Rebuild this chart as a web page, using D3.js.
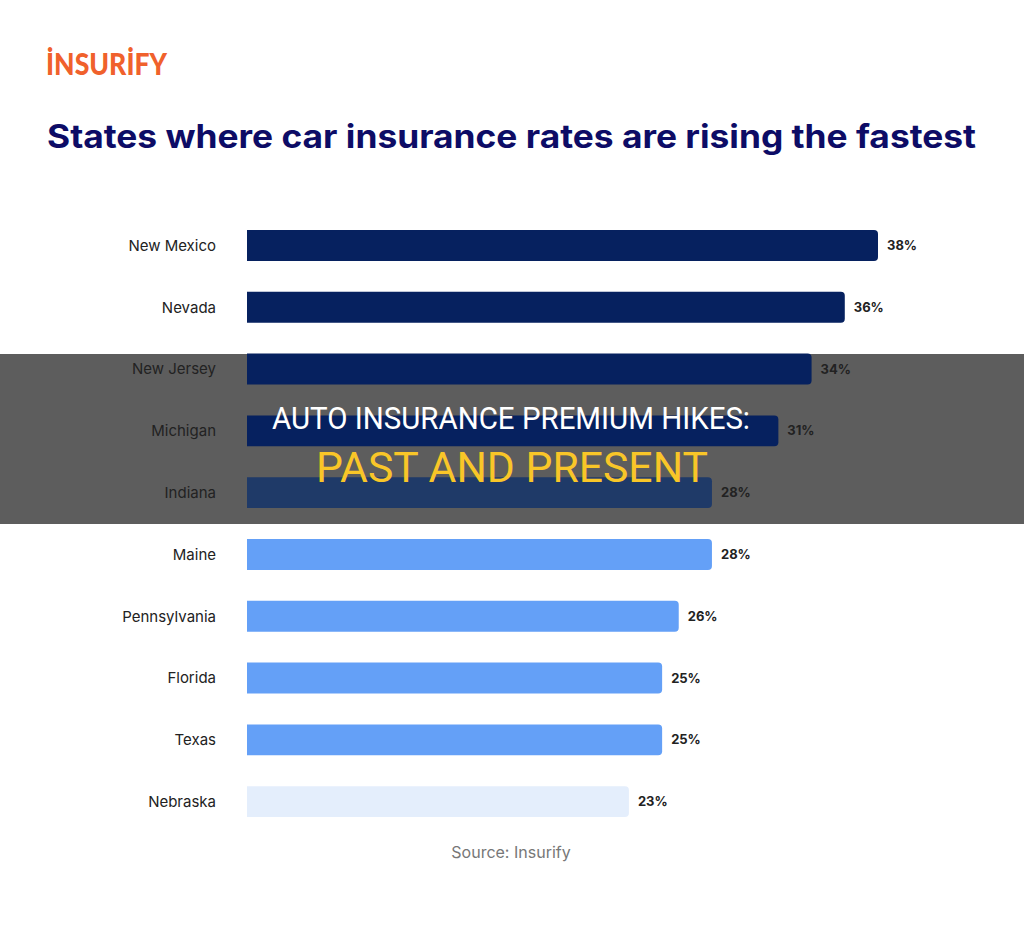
<!DOCTYPE html>
<html>
<head>
<meta charset="utf-8">
<script src="https://cdn.jsdelivr.net/npm/d3@7"></script>
<style>
html,body{margin:0;padding:0;background:#fff;}
svg{display:block;}
</style>
</head>
<body>
<svg id="chart" width="1024" height="931"></svg>
<script>
const states = ["New Mexico","Nevada","New Jersey","Michigan","Indiana","Maine","Pennsylvania","Florida","Texas","Nebraska"];
const barValues = [38,36,34,32,28,28,26,25,25,23];
const valueLabels = ["38%","36%","34%","31%","28%","28%","26%","25%","25%","23%"];
const barColors = ["#06215f","#06215f","#06215f","#06215f","#1f3a68","#64a0f7","#64a0f7","#64a0f7","#64a0f7","#e4eefc"];

const svg = d3.select("#chart");

// Overlay band (background layer)
svg.append("rect").attr("x",0).attr("y",354).attr("width",1024).attr("height",170)
  .attr("fill","#5d5d5d");

// Logo
svg.append("text").attr("x",46).attr("y",75)
  .attr("font-family","Lato, 'Open Sans', sans-serif").attr("font-weight",900)
  .attr("font-size",31).attr("fill","#f0612c")
  .attr("textLength",121).attr("lengthAdjust","spacingAndGlyphs")
  .text("İNSURİFY");

// Title
svg.append("text").attr("x",47).attr("y",148)
  .attr("font-family","Inter, 'Open Sans', sans-serif").attr("font-weight",700)
  .attr("font-size",32).attr("fill","#0d0c66")
  .attr("textLength",929).attr("lengthAdjust","spacingAndGlyphs")
  .text("States where car insurance rates are rising the fastest");

const x = d3.scaleLinear().domain([0,38]).range([247,878]);
const y = d3.scaleBand().domain(states).range([199.1,848]).padding(0.5);

const data = states.map((s,i)=>({s, v:barValues[i], l:valueLabels[i], c:barColors[i]}));

function barPath(d){
  const x0 = x(0), x1 = x(d.v), y0 = y(d.s), h = y.bandwidth(), r = 4;
  return `M${x0},${y0}H${x1-r}Q${x1},${y0} ${x1},${y0+r}V${y0+h-r}Q${x1},${y0+h} ${x1-r},${y0+h}H${x0}Z`;
}

const g = svg.append("g");
g.selectAll("path.bar").data(data).join("path").attr("class","bar")
  .attr("d",barPath).attr("fill",d=>d.c);

g.selectAll("text.cat").data(data).join("text").attr("class","cat")
  .attr("x",216).attr("y",d=>y(d.s)+y.bandwidth()/2)
  .attr("dy","0.35em").attr("text-anchor","end")
  .attr("font-family","Inter, 'Noto Sans', sans-serif").attr("font-size",15)
  .attr("fill","#222").text(d=>d.s);

g.selectAll("text.val").data(data).join("text").attr("class","val")
  .attr("x",d=>x(d.v)+9).attr("y",d=>y(d.s)+y.bandwidth()/2)
  .attr("dy","0.35em").attr("text-anchor","start")
  .attr("font-family","Inter, 'Noto Sans', sans-serif").attr("font-size",13).attr("font-weight",700)
  .attr("fill","#222").text(d=>d.l);

// Source
svg.append("text").attr("x",511).attr("y",858).attr("text-anchor","middle")
  .attr("font-family","Inter, 'Noto Sans', sans-serif").attr("font-size",16)
  .attr("fill","#777").text("Source: Insurify");

// Overlay headline
svg.append("text").attr("x",511).attr("y",429).attr("text-anchor","middle")
  .attr("font-family","Roboto, sans-serif").attr("font-weight",400)
  .attr("font-size",31).attr("fill","#ffffff")
  .attr("textLength",478).attr("lengthAdjust","spacingAndGlyphs")
  .text("AUTO INSURANCE PREMIUM HIKES:");

svg.append("text").attr("x",512).attr("y",482).attr("text-anchor","middle")
  .attr("font-family","Roboto, sans-serif").attr("font-weight",400)
  .attr("font-size",43).attr("fill","#f9c628")
  .attr("textLength",392).attr("lengthAdjust","spacingAndGlyphs")
  .text("PAST AND PRESENT");
</script>
</body>
</html>
